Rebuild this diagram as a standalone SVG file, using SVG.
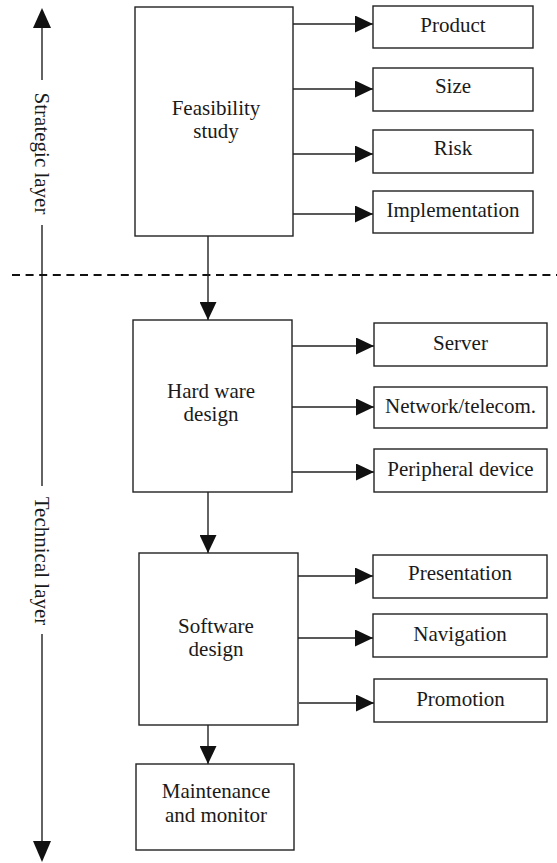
<svg xmlns="http://www.w3.org/2000/svg" width="557" height="863" viewBox="0 0 557 863" font-family="Liberation Serif">
  <style>
    .box { fill: #ffffff; stroke: #222222; stroke-width: 1.4; }
    .lbl { font-size: 21px; fill: #1a1a1a; text-anchor: middle; }
    .edge { fill: none; stroke: #222222; stroke-width: 1.4; marker-end: url(#head); }
    .axis { fill: none; stroke: #222222; stroke-width: 1.4; }
    .divider { fill: none; stroke: #111111; stroke-width: 2; stroke-dasharray: 8 5.6; }
  </style>
  <defs>
    <marker id="head" markerUnits="userSpaceOnUse" markerWidth="18" markerHeight="17" refX="18" refY="8.5" orient="auto">
      <path d="M0,0 L18,8.5 L0,17 Z" fill="#111111"/>
    </marker>
  </defs>

  <rect width="557" height="863" fill="#ffffff"/>

  <!-- layer axis on the left -->
  <g id="layer-axis">
    <line class="axis" x1="42" y1="27" x2="42" y2="80"/>
    <line class="axis" x1="42" y1="225" x2="42" y2="486"/>
    <line class="axis" x1="42" y1="634" x2="42" y2="843"/>
    <path d="M42,8 L51,28 L33,28 Z" fill="#111111"/>
    <path d="M42,862 L51,841 L33,841 Z" fill="#111111"/>
    <text class="lbl" transform="translate(35,153.5) rotate(90)">Strategic layer</text>
    <text class="lbl" transform="translate(35,561) rotate(90)">Technical layer</text>
  </g>

  <!-- boundary between strategic and technical layers -->
  <line class="divider" x1="12" y1="275" x2="557" y2="275"/>

  <!-- connectors -->
  <g id="connectors">
    <line class="edge" x1="293" y1="24" x2="373" y2="24"/>
    <line class="edge" x1="293" y1="89" x2="373" y2="89"/>
    <line class="edge" x1="293" y1="154" x2="373" y2="154"/>
    <line class="edge" x1="293" y1="214" x2="373" y2="214"/>
    <line class="edge" x1="208" y1="236" x2="208" y2="320"/>
    <line class="edge" x1="292" y1="346" x2="374" y2="346"/>
    <line class="edge" x1="292" y1="407" x2="374" y2="407"/>
    <line class="edge" x1="292" y1="472" x2="374" y2="472"/>
    <line class="edge" x1="208" y1="492" x2="208" y2="553"/>
    <line class="edge" x1="298" y1="576" x2="373" y2="576"/>
    <line class="edge" x1="298" y1="638" x2="373" y2="638"/>
    <line class="edge" x1="299" y1="703" x2="374" y2="703"/>
    <line class="edge" x1="208" y1="725" x2="208" y2="764"/>
  </g>

  <!-- strategic layer -->
  <g id="feasibility">
    <rect class="box" x="135" y="7" width="158" height="229"/>
    <text class="lbl" x="216" y="115">Feasibility</text>
    <text class="lbl" x="216" y="138">study</text>
  </g>
  <g id="product">
    <rect class="box" x="373" y="6" width="160" height="42"/>
    <text class="lbl" x="453" y="32">Product</text>
  </g>
  <g id="size">
    <rect class="box" x="373" y="68" width="160" height="43"/>
    <text class="lbl" x="453" y="93">Size</text>
  </g>
  <g id="risk">
    <rect class="box" x="373" y="130" width="160" height="43"/>
    <text class="lbl" x="453" y="155">Risk</text>
  </g>
  <g id="implementation">
    <rect class="box" x="373" y="191" width="160" height="42"/>
    <text class="lbl" x="453" y="217">Implementation</text>
  </g>

  <!-- technical layer: hardware -->
  <g id="hardware">
    <rect class="box" x="133" y="320" width="159" height="172"/>
    <text class="lbl" x="211" y="398">Hard ware</text>
    <text class="lbl" x="211" y="421">design</text>
  </g>
  <g id="server">
    <rect class="box" x="374" y="323" width="173" height="43"/>
    <text class="lbl" x="460.5" y="350">Server</text>
  </g>
  <g id="network">
    <rect class="box" x="374" y="387" width="173" height="41"/>
    <text class="lbl" x="460.5" y="413">Network/telecom.</text>
  </g>
  <g id="peripheral">
    <rect class="box" x="374" y="449" width="173" height="43"/>
    <text class="lbl" x="460.5" y="476">Peripheral device</text>
  </g>

  <!-- technical layer: software -->
  <g id="software">
    <rect class="box" x="139" y="553" width="159" height="172"/>
    <text class="lbl" x="216" y="633">Software</text>
    <text class="lbl" x="216" y="656">design</text>
  </g>
  <g id="presentation">
    <rect class="box" x="373" y="555" width="174" height="43"/>
    <text class="lbl" x="460" y="580">Presentation</text>
  </g>
  <g id="navigation">
    <rect class="box" x="373" y="614" width="174" height="43"/>
    <text class="lbl" x="460" y="641">Navigation</text>
  </g>
  <g id="promotion">
    <rect class="box" x="374" y="679" width="173" height="43"/>
    <text class="lbl" x="460.5" y="706">Promotion</text>
  </g>

  <!-- maintenance -->
  <g id="maintenance">
    <rect class="box" x="136" y="764" width="158" height="86"/>
    <text class="lbl" x="216" y="798">Maintenance</text>
    <text class="lbl" x="216" y="822">and monitor</text>
  </g>
</svg>
